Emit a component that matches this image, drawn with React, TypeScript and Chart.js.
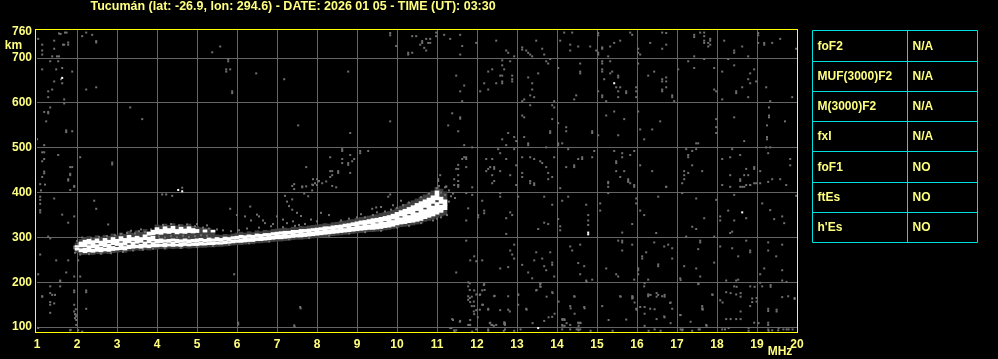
import React, { useEffect, useRef } from "react";
import { Chart, registerables } from "chart.js";
Chart.register(...registerables);

const titleText = "Tucumán (lat: -26.9, lon: 294.6) - DATE: 2026 01 05 - TIME (UT): 03:30";
const xTicks = [1, 2, 3, 4, 5, 6, 7, 8, 9, 10, 11, 12, 13, 14, 15, 16, 17, 18, 19, 20];
const yTicks = [100, 200, 300, 400, 500, 600, 700, 760];
const paramNames = ["foF2", "MUF(3000)F2", "M(3000)F2", "fxI", "foF1", "ftEs", "h'Es"];
const paramValues = ["N/A", "N/A", "N/A", "N/A", "NO", "NO", "NO"];

// main F-trace band (MHz, lower km, inner gap, upper km)
const traceFreq = [2.0, 2.1, 2.2, 2.3, 2.4, 2.5, 2.6, 2.7, 2.8, 2.9, 3.0, 3.1, 3.2, 3.3, 3.4, 3.5, 3.6, 3.7, 3.8, 3.9, 4.0, 4.1, 4.2, 4.3, 4.4, 4.5, 4.6, 4.7, 4.8, 4.9, 5.0, 5.1, 5.2, 5.3, 5.4, 5.5, 5.6, 5.7, 5.8, 5.9, 6.0, 6.1, 6.2, 6.3, 6.4, 6.5, 6.6, 6.7, 6.8, 6.9, 7.0, 7.1, 7.2, 7.3, 7.4, 7.5, 7.6, 7.7, 7.8, 7.9, 8.0, 8.1, 8.2, 8.3, 8.4, 8.5, 8.6, 8.7, 8.8, 8.9, 9.0, 9.1, 9.2, 9.3, 9.4, 9.5, 9.6, 9.7, 9.8, 9.9, 10.0, 10.1, 10.2, 10.3, 10.4, 10.5, 10.6, 10.7, 10.8, 10.9, 11.0, 11.1, 11.2];
const traceLow = [272, 268, 266, 268, 267, 269, 268, 270, 269, 271, 272, 273, 272, 275, 276, 277, 276, 278, 277, 279, 279, 280, 279, 281, 280, 281, 280, 282, 281, 282, 282, 283, 283, 284, 284, 285, 285, 286, 287, 288, 289, 289, 290, 291, 291, 293, 293, 294, 295, 296, 297, 297, 298, 299, 300, 301, 301, 302, 303, 304, 305, 306, 307, 308, 309, 310, 311, 312, 313, 314, 315, 316, 317, 318, 318, 319, 320, 322, 323, 325, 328, 330, 331, 333, 334, 336, 338, 342, 345, 348, 352, 356, 362];
const traceGapLow = [276, 275, 276, 282, 274, 284, 278, 276, 285, 280, 278, 288, 280, 283, 290, 283, 285, 290, 284, 289, 286, 285, 288, 286, 290, 285, 287, 289, 285, 288, 287, 290, 288, 289, 291, 290, 289, 292, 291, 294, 294, 297, 296, 298, 298, 300, 299, 301, 302, 303, 304, 305, 306, 306, 308, 308, 309, 310, 311, 312, 313, 314, 315, 316, 317, 318, 319, 320, 322, 323, 325, 326, 327, 328, 330, 331, 332, 334, 336, 338, 342, 344, 347, 349, 352, 355, 359, 362, 366, 370, 378, 372, 372];
const traceGapHigh = [278, 279, 279, 285, 277, 288, 281, 279, 288, 284, 282, 292, 283, 288, 293, 287, 289, 295, 288, 292, 288, 288, 290, 289, 292, 288, 289, 291, 287, 290, 289, 292, 290, 291, 293, 292, 291, 294, 293, 296, 296, 299, 297, 300, 298, 302, 299, 303, 302, 305, 304, 307, 306, 308, 308, 310, 309, 312, 311, 314, 313, 316, 315, 318, 317, 320, 319, 323, 322, 326, 325, 329, 327, 331, 330, 334, 332, 337, 336, 341, 342, 348, 347, 353, 352, 360, 359, 367, 366, 376, 384, 376, 372];
const traceHigh = [282, 290, 294, 296, 293, 297, 292, 298, 294, 300, 296, 302, 298, 305, 300, 303, 300, 306, 301, 303, 296, 297, 295, 296, 297, 296, 295, 297, 295, 296, 297, 298, 296, 299, 297, 300, 298, 301, 300, 302, 303, 305, 304, 306, 305, 308, 307, 309, 309, 311, 312, 313, 314, 314, 316, 316, 318, 318, 319, 320, 321, 322, 324, 324, 326, 327, 328, 330, 331, 333, 335, 337, 338, 340, 342, 343, 345, 347, 349, 352, 356, 360, 363, 367, 371, 376, 380, 384, 388, 393, 404, 390, 384];
// dim echo envelope around the trace
const envLow = [266, 262, 262, 263, 262, 264, 263, 265, 264, 266, 267, 268, 267, 270, 271, 272, 271, 273, 272, 274, 274, 275, 274, 276, 275, 276, 275, 277, 276, 277, 277, 278, 278, 279, 279, 280, 280, 281, 282, 283, 284, 284, 285, 286, 286, 288, 288, 289, 290, 291, 292, 292, 293, 294, 295, 296, 296, 297, 298, 299, 300, 301, 302, 303, 304, 305, 306, 307, 308, 309, 310, 311, 312, 313, 313, 314, 315, 317, 318, 320, 322, 324, 325, 327, 328, 330, 332, 336, 338, 341, 345, 348, 350];
const envHigh = [288, 296, 300, 302, 300, 304, 301, 305, 303, 308, 305, 310, 307, 314, 310, 315, 312, 318, 314, 318, 328, 326, 330, 327, 331, 326, 329, 326, 330, 325, 324, 322, 321, 320, 318, 306, 305, 307, 306, 308, 310, 312, 310, 313, 311, 315, 313, 316, 315, 318, 319, 320, 321, 320, 323, 322, 325, 324, 326, 327, 328, 329, 331, 330, 333, 334, 336, 337, 339, 340, 343, 345, 346, 348, 350, 351, 354, 356, 358, 361, 366, 370, 374, 378, 382, 386, 390, 395, 400, 404, 412, 408, 402];
// upper branch around 4-5 MHz
const upperFreq = [3.8, 3.9, 4.0, 4.1, 4.2, 4.3, 4.4, 4.5, 4.6, 4.7, 4.8, 4.9, 5.0, 5.2, 5.4];
const upperLow = [305, 306, 308, 307, 310, 309, 311, 308, 310, 309, 311, 310, 311, 312, 312];
const upperHigh = [312, 316, 322, 318, 324, 320, 325, 318, 323, 319, 324, 320, 318, 317, 316];

const whiteDots = [[1.63, 656], [15.43, 644], [18.63, 356], [14.78, 311], [14.78, 307], [13.53, 98], [4.53, 406], [4.63, 403]];

const haloGray = [[1.93, 280], [1.98, 272], [2.03, 286], [1.95, 266], [2.08, 262], [2.0, 292], [2.13, 300],
  [2.35, 298], [2.55, 301], [2.75, 303], [2.95, 305], [3.1, 308], [3.25, 310], [3.45, 309], [3.55, 314], [3.7, 312], [3.85, 318], [3.6, 318], [3.35, 315],
  [2.3, 263], [2.6, 264], [2.85, 265], [3.15, 268], [3.4, 271], [3.65, 273], [3.9, 275],
  [4.05, 302], [4.2, 300], [4.35, 303], [4.5, 300], [4.65, 304], [4.8, 301], [4.95, 303], [5.1, 305], [5.25, 304],
  [4.15, 328], [4.35, 330], [4.55, 327], [4.75, 329], [4.95, 325], [5.15, 322], [5.3, 320], [5.5, 318], [5.65, 316], [5.85, 314], [6.05, 316], [5.0, 330], [5.25, 327],
  [4.2, 276], [4.6, 277], [5.0, 279], [5.4, 281], [5.8, 284],
  [6.0, 350], [6.2, 347], [6.35, 338], [6.5, 351], [6.55, 347], [6.65, 338], [6.7, 332], [6.9, 330], [7.0, 347], [7.15, 340], [7.25, 332], [7.4, 336], [7.55, 328], [7.7, 330], [7.85, 340], [8.0, 336], [6.25, 320], [6.55, 322], [6.85, 325], [7.15, 323], [7.45, 326],
  [6.3, 287], [6.8, 291], [7.3, 296], [7.8, 299], [8.3, 304], [8.8, 309],
  [7.38, 415], [7.43, 408], [7.63, 412], [7.68, 398], [7.88, 405], [7.78, 392], [7.88, 418], [8.03, 425], [8.13, 421], [8.23, 425], [8.38, 415], [8.48, 412], [7.2, 393], [7.25, 380], [7.38, 385], [7.3, 370], [7.38, 362], [7.9, 430], [8.0, 430], [8.05, 426], [7.95, 421], [7.9, 417], [8.0, 417], [7.5, 355], [7.6, 348], [8.1, 355], [8.3, 350],
  [8.6, 338], [8.8, 342], [9.0, 345], [9.2, 345], [9.4, 350], [9.5, 356], [9.7, 358], [9.85, 362], [10.0, 366], [10.15, 372], [10.3, 378], [9.3, 330], [9.1, 352], [9.6, 368], [9.9, 372], [10.1, 382],
  [9.2, 312], [9.6, 315], [10.0, 322], [10.3, 326], [10.6, 332],
  [10.6, 390], [10.8, 398], [11.0, 410], [11.1, 400], [11.2, 395], [11.3, 405], [11.4, 398], [11.45, 388], [11.3, 380], [11.2, 370], [11.15, 360], [11.25, 350], [11.1, 345], [11.35, 392], [11.05, 415], [11.2, 412], [10.9, 338], [11.0, 342]];

const noiseUpperLeft = [[1.55, 755], [1.59, 754], [1.70, 757], [1.74, 757], [1.03, 743], [1.13, 730], [1.13, 717], [1.13, 708], [1.43, 739], [1.43, 721], [1.65, 730], [1.68, 730], [1.78, 735], [1.78, 730], [2.23, 757], [2.13, 749], [2.38, 752], [2.48, 738], [2.48, 735], [1.38, 704], [1.5, 704], [1.55, 704], [1.33, 693], [1.53, 693], [1.13, 675], [1.48, 675], [1.63, 678], [1.88, 670], [1.6, 653], [1.43, 648], [1.63, 644], [1.38, 630], [1.28, 626], [1.28, 613], [1.68, 608], [1.68, 599], [1.33, 590], [1.18, 580], [1.28, 580], [1.28, 577], [1.23, 559], [1.73, 539], [1.73, 535], [1.88, 537], [1.0, 519], [1.18, 506], [1.13, 490], [1.18, 490], [1.53, 484], [1.18, 475], [1.13, 470], [1.83, 457], [1.88, 457], [1.18, 447], [1.18, 443], [1.83, 442], [1.83, 439], [1.13, 435], [1.78, 430], [1.78, 427], [1.08, 419], [1.93, 415], [2.08, 479], [2.23, 630], [2.48, 635], [2.88, 467], [2.88, 463], [3.33, 590], [3.63, 564], [4.63, 411], [5.38, 713], [5.58, 726], [5.78, 698], [5.78, 693], [5.73, 675], [5.73, 670], [5.83, 675], [5.88, 626], [5.88, 622], [6.48, 666], [7.18, 653], [7.43, 419]];

const noiseUpperMid = [[9.83, 756], [9.83, 751], [9.98, 727], [10.38, 749], [10.48, 749], [10.63, 738], [10.63, 734], [10.73, 743], [10.83, 743], [10.78, 734], [10.83, 734], [10.58, 730], [10.68, 723], [10.73, 717], [10.28, 712], [10.28, 708], [10.38, 712], [10.98, 757], [10.98, 749], [11.18, 752], [11.33, 743], [11.58, 752], [11.63, 727], [11.58, 708], [11.98, 734], [12.48, 739], [12.73, 717], [12.78, 712], [12.93, 704], [13.13, 724], [13.13, 719], [13.23, 717], [13.28, 712], [13.33, 708], [13.38, 704], [13.48, 739], [13.63, 721], [13.68, 708], [13.73, 693], [13.78, 688], [13.83, 698], [8.78, 670], [11.48, 661], [11.68, 639], [11.58, 626], [11.63, 604], [12.08, 626], [12.18, 644], [12.28, 670], [12.38, 675], [12.28, 630], [12.48, 644], [12.63, 695], [12.63, 684], [12.68, 675], [12.58, 661], [12.63, 661], [12.63, 648], [12.63, 644], [12.88, 661], [12.88, 653], [12.88, 648], [12.83, 693], [13.28, 657], [13.38, 644], [13.38, 630], [13.53, 666], [13.33, 617], [13.43, 613], [13.18, 608], [13.13, 604], [13.93, 604], [13.93, 590], [13.88, 595], [7.53, 550], [9.83, 559], [8.83, 533], [11.38, 577], [11.58, 568], [11.58, 565], [11.28, 550], [11.53, 537], [11.68, 506], [11.88, 501], [12.63, 519], [12.73, 506], [12.78, 533], [12.93, 524], [12.98, 515], [12.93, 497], [13.18, 524], [13.28, 510], [13.28, 506], [13.13, 572], [13.18, 568], [13.33, 595], [13.73, 501], [13.88, 564], [13.83, 537], [13.83, 533],
  [8.63, 497], [8.63, 493], [8.33, 479], [8.83, 484], [8.93, 475], [8.88, 470], [8.78, 466], [8.78, 462], [8.63, 475], [8.63, 466], [9.08, 493], [9.08, 488], [9.28, 493], [7.73, 457], [8.33, 448], [8.38, 448], [8.38, 439], [8.33, 435], [8.53, 448], [8.53, 444], [8.83, 444], [7.63, 414], [7.73, 414],
  [11.68, 479], [11.73, 479], [11.73, 475], [11.63, 475], [11.53, 462], [11.73, 457], [11.48, 453], [11.53, 453], [11.08, 439], [11.53, 439], [11.43, 430], [11.53, 426], [11.53, 417], [11.43, 417], [11.23, 414], [11.88, 412], [11.03, 430], [11.03, 426],
  [12.23, 475], [12.33, 457], [12.28, 453], [12.23, 448], [12.38, 475], [12.43, 457], [12.43, 453], [12.38, 439], [12.58, 448], [12.43, 426], [12.53, 497], [12.58, 488], [12.73, 475], [12.83, 439], [12.98, 461], [12.98, 417], [13.13, 479], [13.13, 444], [13.13, 435], [13.33, 479], [13.43, 475], [13.58, 470], [13.63, 466], [13.73, 457], [13.78, 444], [13.88, 435], [13.33, 426], [13.43, 421], [13.93, 479], [13.78, 430]];

const noiseUpperRight = [[14.18, 757], [14.38, 757], [14.08, 739], [14.33, 730], [14.33, 717], [14.53, 726], [14.83, 726], [15.03, 756], [15.03, 751], [15.13, 724], [15.13, 721], [15.03, 712], [15.03, 708], [14.98, 717], [15.28, 704], [15.33, 726], [15.43, 734], [15.58, 739], [15.83, 757], [15.88, 752], [16.03, 721], [16.03, 712], [16.08, 708], [16.33, 734], [16.63, 757], [16.73, 756], [16.73, 730], [16.63, 721], [17.43, 752], [17.43, 747], [17.58, 757], [17.68, 757], [17.68, 749], [17.68, 739], [17.68, 734], [17.78, 734], [17.83, 743], [17.83, 739], [17.83, 730], [17.78, 726], [17.43, 704], [17.68, 698], [18.18, 739], [18.43, 717], [18.43, 712], [18.63, 726], [18.78, 704], [19.03, 756], [19.03, 751], [19.03, 734], [19.18, 734], [19.18, 730], [19.38, 734], [19.58, 743], [19.98, 721],
  [14.03, 678], [14.58, 688], [14.58, 670], [14.58, 666], [15.13, 693], [15.13, 688], [15.33, 693], [15.13, 675], [15.13, 670], [15.33, 666], [15.38, 670], [15.53, 661], [15.53, 657], [15.18, 653], [15.48, 635], [15.58, 635], [15.53, 626], [15.73, 626], [15.73, 622], [15.03, 626], [15.13, 617], [15.13, 613], [15.53, 613], [15.23, 604], [16.03, 688], [16.28, 661], [16.43, 670], [16.63, 653], [16.63, 648], [16.73, 657], [16.73, 648], [16.73, 635], [16.63, 630], [16.63, 626], [16.88, 617], [16.88, 613], [16.93, 604], [15.98, 635], [15.98, 626], [15.98, 613], [17.28, 693], [17.43, 678], [17.03, 675], [17.93, 678], [17.93, 630], [17.98, 626], [18.13, 670], [18.28, 698], [18.43, 684], [18.83, 666], [18.93, 675], [18.78, 653], [18.83, 644], [18.98, 648], [18.63, 635], [18.48, 626], [18.48, 622], [18.78, 613], [18.13, 608], [19.23, 635], [19.33, 604], [19.88, 613], [14.48, 617], [14.43, 608],
  [19.3, 590], [19.3, 572], [19.3, 568], [19.25, 550], [19.7, 559], [19.25, 524], [19.25, 519], [18.43, 568], [18.68, 515], [17.98, 564], [17.98, 546], [17.98, 533], [17.53, 510], [17.48, 510], [16.58, 559], [16.38, 541], [16.08, 541], [16.18, 519], [16.03, 581], [15.68, 564], [15.43, 581], [15.23, 572], [15.53, 528], [15.03, 528], [14.88, 537], [14.88, 533], [14.23, 546], [14.23, 537], [14.03, 555], [14.13, 510], [14.03, 510], [14.03, 506],
  [14.28, 497], [14.63, 479], [14.63, 475], [14.53, 475], [14.88, 479], [14.93, 493], [14.43, 461], [14.43, 457], [14.23, 457], [15.43, 493], [15.63, 488], [15.63, 479], [15.83, 484], [15.93, 493], [15.48, 470], [15.48, 466], [15.48, 448], [15.68, 448], [15.58, 435], [15.78, 430], [15.78, 426], [15.83, 421], [15.93, 417], [15.28, 424], [15.28, 413], [16.08, 461], [16.38, 448], [16.73, 413], [17.23, 497], [17.28, 484], [17.28, 479], [17.38, 493], [17.48, 497], [17.38, 461], [17.18, 448], [17.18, 439], [17.18, 430], [17.28, 444], [17.63, 448], [18.13, 475], [18.33, 479], [18.38, 497], [18.58, 484], [18.73, 453], [18.33, 439], [18.68, 439], [18.78, 439], [18.58, 430], [18.58, 426], [18.83, 417], [18.93, 421], [18.13, 417], [18.33, 413], [18.63, 413], [18.68, 413], [18.93, 457], [18.93, 453], [19.08, 448], [19.08, 421], [19.23, 501], [19.33, 501], [19.28, 488], [19.83, 475], [19.83, 461], [19.38, 430], [19.58, 430], [19.73, 417]];

const noiseLowerLeft = [[1.08, 391], [1.08, 384], [1.08, 375], [1.08, 361], [1.08, 356], [1.43, 387], [1.63, 351], [1.78, 333], [1.93, 347], [1.93, 413], [1.83, 406], [2.43, 382], [2.48, 364], [2.78, 329], [1.33, 298], [1.28, 302], [1.08, 262], [1.48, 249], [1.78, 249], [1.93, 276], [2.03, 249], [1.73, 222], [1.58, 204], [1.33, 191], [1.58, 191], [1.03, 218], [1.93, 213], [2.08, 213], [1.93, 182], [1.93, 178], [2.23, 182], [2.23, 178], [1.13, 169], [1.33, 156], [1.43, 153], [1.33, 132], [1.95, 129], [1.98, 124], [1.95, 120], [1.98, 116], [1.98, 105], [2.23, 141], [1.83, 93], [2.03, 93], [2.13, 90], [5.93, 218], [6.03, 110], [7.58, 145], [7.43, 104], [1.03, 98], [1.13, 168], [1.33, 176], [1.38, 172], [1.45, 172], [1.33, 150], [1.58, 202], [1.93, 150], [1.97, 140], [1.93, 135], [1.97, 128], [1.84, 94], [7.44, 101], [7.59, 142], [6.03, 106], [5.83, 364], [6.33, 369], [9.78, 391], [9.83, 396], [9.48, 367], [9.38, 364], [4.13, 396], [4.23, 396], [4.38, 393], [1.1, 405], [1.2, 418]];

const noiseLowerRight = [[11.23, 413], [11.53, 417], [11.53, 413], [11.73, 399], [11.88, 395], [11.78, 365], [12.03, 350], [12.03, 345], [12.18, 360], [12.18, 354], [12.13, 382], [11.73, 338], [12.38, 421], [12.58, 399], [12.58, 391], [12.73, 343], [12.83, 356], [12.88, 350], [12.73, 308], [13.03, 391], [13.33, 421], [13.43, 417], [13.68, 391], [13.88, 373], [13.68, 333], [13.78, 330], [13.53, 319], [14.08, 410], [14.08, 325], [14.08, 316], [14.03, 341], [14.28, 391], [14.13, 382], [14.73, 373], [14.78, 350], [14.78, 338], [14.78, 328], [15.08, 376], [15.08, 360], [15.28, 421], [15.28, 399], [15.63, 311], [15.88, 330], [15.78, 424], [15.93, 413], [15.98, 387], [15.98, 376], [16.08, 360], [16.18, 350], [16.48, 310], [16.53, 391], [16.73, 413], [17.13, 399], [17.48, 387], [17.38, 324], [17.48, 319], [17.68, 343], [17.13, 421], [17.98, 384], [18.08, 347], [18.08, 338], [18.28, 360], [18.38, 313], [18.33, 310], [18.43, 338], [18.43, 395], [18.73, 343], [18.58, 413], [18.83, 417], [18.73, 417], [18.98, 421], [19.13, 376], [19.33, 361], [19.43, 341], [19.68, 332], [19.63, 347], [19.28, 424], [19.98, 393],
  [11.73, 293], [11.93, 258], [11.98, 247], [11.83, 249], [12.13, 249], [11.48, 222], [12.78, 234], [12.83, 271], [12.88, 262], [12.93, 253], [12.93, 284], [12.58, 231], [13.13, 239], [13.28, 222], [13.38, 209], [13.43, 249], [13.48, 267], [13.63, 253], [13.73, 227], [13.83, 267], [13.88, 244], [13.88, 239], [13.68, 236], [13.93, 213], [14.33, 280], [14.38, 271], [14.58, 284], [14.53, 243], [14.68, 236], [14.58, 218], [14.73, 204], [14.88, 206], [15.23, 231], [15.48, 218], [15.53, 213], [15.63, 293], [15.63, 289], [15.53, 293], [15.63, 271], [15.88, 284], [15.93, 206], [16.13, 258], [16.13, 253], [16.23, 267], [16.03, 231], [16.03, 227], [16.03, 218], [16.28, 206], [16.53, 240], [16.53, 236], [16.68, 280], [16.78, 284], [16.88, 276], [16.88, 253], [16.43, 289], [17.23, 302], [17.18, 236], [17.08, 209], [17.48, 231], [17.53, 274], [17.58, 293], [17.58, 289], [17.58, 213], [17.93, 302], [17.93, 244], [18.08, 280], [18.38, 276], [18.53, 258], [18.83, 271], [18.83, 267], [18.73, 293], [19.28, 289], [19.28, 271], [19.48, 258], [19.63, 284], [19.63, 227], [19.08, 218], [19.18, 231], [19.63, 204], [18.23, 204], [18.53, 206], [18.48, 204],
  [11.78, 200], [11.78, 191], [11.93, 182], [11.98, 173], [11.78, 169], [11.78, 161], [11.83, 156], [11.93, 147], [11.98, 138], [11.93, 129], [11.83, 116], [11.78, 105], [11.83, 105], [11.38, 118], [11.58, 114], [11.33, 98], [11.43, 93], [11.48, 93], [12.18, 196], [12.13, 182], [12.08, 173], [12.43, 169], [12.13, 150], [12.28, 141], [12.58, 138], [12.78, 169], [12.68, 111], [12.68, 107], [12.38, 105], [12.48, 105], [12.33, 110], [13.03, 173], [13.23, 141], [13.48, 182], [13.58, 196], [13.58, 191], [13.88, 178], [13.88, 123], [13.68, 114], [14.13, 118], [14.18, 118], [14.13, 105], [14.43, 169], [14.33, 147], [14.68, 145], [14.53, 110], [14.58, 110], [14.33, 105], [15.13, 147], [15.58, 169], [15.88, 169], [15.88, 164], [15.98, 141], [15.73, 117], [16.18, 191], [16.28, 173], [16.28, 169], [16.08, 145], [16.33, 141], [16.63, 169], [16.53, 172], [16.68, 124], [16.88, 141], [16.83, 154], [17.08, 127], [17.53, 196], [17.63, 147], [17.63, 142], [17.88, 173], [17.73, 105], [18.08, 160], [18.23, 178], [18.48, 173], [18.43, 191], [18.23, 118], [18.48, 118], [18.83, 191], [18.88, 164], [18.88, 156], [18.83, 147], [18.93, 110], [19.08, 199], [19.13, 191], [19.28, 141], [19.28, 136], [19.63, 167], [19.78, 169], [19.28, 110], [19.28, 105],
  [14.13, 95], [14.33, 95], [14.53, 95], [14.58, 95], [17.13, 93], [17.38, 92], [18.13, 95], [19.28, 95], [19.38, 93], [19.53, 93], [19.66, 95], [12.28, 92], [12.67, 92], [12.93, 92], [11.88, 90],
  [11.82, 198], [11.82, 183], [11.87, 168], [11.82, 165], [11.92, 157], [12.07, 172], [12.17, 194], [12.19, 183], [12.44, 170], [11.87, 147], [11.92, 135], [12.07, 139], [12.02, 122], [12.15, 150], [12.28, 139], [11.4, 116], [11.57, 112], [11.36, 98], [11.44, 90], [11.82, 105], [12.32, 109], [12.36, 105], [12.42, 103], [11.98, 95], [12.28, 95],
  [12.7, 95], [12.7, 109], [12.7, 105], [12.78, 139], [12.82, 135], [13.03, 172], [13.03, 150], [13.24, 139], [13.09, 95], [13.39, 109], [13.49, 183], [13.59, 198], [13.59, 190], [13.74, 168], [13.79, 122], [13.89, 176], [13.94, 130], [14.04, 157], [14.14, 116], [14.19, 116], [14.14, 103], [14.19, 103], [14.24, 109], [14.34, 142], [14.44, 168], [14.44, 130], [14.54, 109], [14.59, 109], [14.54, 103], [14.69, 142], [14.49, 95], [14.54, 93], [14.84, 92], [14.74, 201], [15.29, 116], [15.39, 92], [15.59, 168], [15.89, 168], [15.89, 165], [15.94, 155], [15.99, 139], [16.19, 198], [16.29, 172], [16.34, 172], [16.49, 176], [16.49, 168], [16.69, 172], [16.69, 168], [16.19, 145], [16.19, 130], [16.44, 140], [16.84, 155], [16.49, 118], [16.69, 122], [16.84, 109], [16.19, 103], [16.29, 92], [16.44, 95], [16.59, 92], [17.09, 95], [17.14, 95], [17.09, 127], [17.34, 112], [17.54, 197], [17.64, 141], [17.64, 139], [17.74, 103], [17.54, 95], [17.89, 172], [18.14, 155], [18.34, 176], [18.49, 190], [18.59, 176], [18.59, 168], [18.59, 135], [18.34, 118], [18.59, 118], [18.79, 98], [18.79, 92], [18.94, 190], [18.99, 165], [18.99, 157], [19.04, 109], [19.34, 194], [19.34, 190], [19.49, 139], [19.49, 135], [19.54, 98], [19.74, 95], [19.79, 95], [19.94, 165], [19.94, 163], [19.89, 95], [19.29, 92], [19.74, 201], [18.29, 98], [18.2, 95], [17.57, 95], [17.09, 205]];

const PALE = "#ffff80";
const FRAME = "#ffff00";
const CYAN = "#00e0e0";
const GRID = "#646464";
const DOT = "#707070";
const ENV = "#404040";
const FONT = "'Liberation Sans', Arial, sans-serif";

const toPts = (arr: number[][]) => arr.map((p) => ({ x: p[0], y: p[1] }));
const toBars = (fs: number[], lo: number[], hi: number[]) =>
  fs.map((f, i) => ({ x: f, y: [lo[i], hi[i]] })).filter((d) => d.y[1] > d.y[0]);

const decor = {
  id: "decor",
  beforeDraw(chart: any) {
    const c = chart.ctx;
    c.save();
    c.fillStyle = "#000";
    c.fillRect(0, 0, chart.width, chart.height);
    c.restore();
  },
  afterDraw(chart: any) {
    const c = chart.ctx;
    c.save();
    c.strokeStyle = FRAME;
    c.lineWidth = 1;
    c.strokeRect(35.5, 29.5, 762, 303);
    c.fillStyle = PALE;
    c.textBaseline = "middle";
    c.textAlign = "left";
    c.font = `bold 12.5px ${FONT}`;
    c.fillText(titleText, 90.5, 7);
    c.font = `bold 12px ${FONT}`;
    c.textAlign = "center";
    c.fillText("km", 13.5, 46);
    c.fillText("MHz", 780, 352);
    const xs = [812.5, 907.5, 977.5];
    const ys = [30.5, 61.5, 91.5, 121.5, 151.5, 182.5, 212.5, 242.5];
    c.strokeStyle = CYAN;
    c.beginPath();
    for (const y of ys) { c.moveTo(xs[0], y); c.lineTo(xs[2], y); }
    for (const x of xs) { c.moveTo(x, ys[0]); c.lineTo(x, ys[ys.length - 1]); }
    c.stroke();
    c.textAlign = "left";
    c.fillStyle = PALE;
    for (let i = 0; i < paramNames.length; i++) {
      const cy = (ys[i] + ys[i + 1]) / 2 + 0.5;
      c.fillText(paramNames[i], 817.5, cy);
      c.fillText(paramValues[i], 912.5, cy);
    }
    c.restore();
  },
};

export default function App() {
  const ref = useRef<HTMLCanvasElement>(null);
  useEffect(() => {
    document.body.style.margin = "0";
    document.body.style.background = "#000";
    const canvas = ref.current as HTMLCanvasElement;
    const dotOpts = (color: string) => ({
      type: "scatter",
      pointStyle: "rect",
      pointRadius: 1.42,
      pointBorderWidth: 0,
      pointBackgroundColor: color,
      pointHoverRadius: 1.42,
      showLine: false,
    });
    const barOpts = (color: string, order: number, thick: number) => ({
      type: "bar", order, grouped: false, barThickness: thick, borderWidth: 0, backgroundColor: color,
    });
    const chart = new Chart(canvas, {
      type: "bar",
      data: {
        datasets: [
          { ...dotOpts("#ffffff"), order: 0, data: toPts(whiteDots) } as any,
          { ...barOpts("#ffffff", 1, 4), data: toBars(traceFreq, traceLow, traceGapLow) } as any,
          { ...barOpts("#ffffff", 2, 4), data: toBars(traceFreq, traceGapHigh, traceHigh) } as any,
          { ...barOpts("#ffffff", 3, 4), data: toBars(upperFreq, upperLow, upperHigh) } as any,
          { ...dotOpts(DOT), order: 4, data: toPts(haloGray) } as any,
          { ...barOpts(ENV, 5, 4), data: toBars(traceFreq, envLow, envHigh) } as any,
          { ...dotOpts(DOT), order: 6, data: toPts(noiseUpperLeft) } as any,
          { ...dotOpts(DOT), order: 7, data: toPts(noiseUpperMid) } as any,
          { ...dotOpts(DOT), order: 8, data: toPts(noiseUpperRight) } as any,
          { ...dotOpts(DOT), order: 9, data: toPts(noiseLowerLeft) } as any,
          { ...dotOpts(DOT), order: 10, data: toPts(noiseLowerRight) } as any,
        ],
      },
      options: {
        responsive: false,
        animation: false,
        events: [],
        layout: { padding: { top: 29, right: 201, left: 0, bottom: 0 } },
        plugins: { legend: { display: false }, tooltip: { enabled: false }, title: { display: false } },
        scales: {
          x: {
            type: "linear", min: 1, max: 20, offset: false,
            afterBuildTicks: (s: any) => { s.ticks = xTicks.map((v) => ({ value: v })); },
            afterFit: (s: any) => { s.height = 26; },
            ticks: { color: PALE, font: { family: FONT, size: 12, weight: "bold" }, padding: 4, maxRotation: 0, autoSkip: false },
            grid: {
              color: (ctx: any) => (ctx.tick && (ctx.tick.value === 1 || ctx.tick.value === 20) ? "rgba(0,0,0,0)" : GRID),
              lineWidth: 1, drawTicks: false, offset: false,
            },
            border: { display: false },
          },
          y: {
            type: "linear", min: 87, max: 765,
            afterBuildTicks: (s: any) => { s.ticks = yTicks.map((v) => ({ value: v })); },
            afterFit: (s: any) => { s.width = 37; },
            ticks: { color: PALE, font: { family: FONT, size: 12, weight: "bold" }, padding: 5, autoSkip: false },
            grid: {
              color: (ctx: any) => (ctx.tick && ctx.tick.value === 760 ? "rgba(0,0,0,0)" : GRID),
              lineWidth: 1, drawTicks: false,
            },
            border: { display: false },
          },
        },
      } as any,
      plugins: [decor],
    });
    return () => chart.destroy();
  }, []);
  return (
    <div style={{ width: 998, height: 359, background: "#000" }}>
      <canvas ref={ref} width={998} height={359} style={{ display: "block", width: 998, height: 359 }} />
    </div>
  );
}
